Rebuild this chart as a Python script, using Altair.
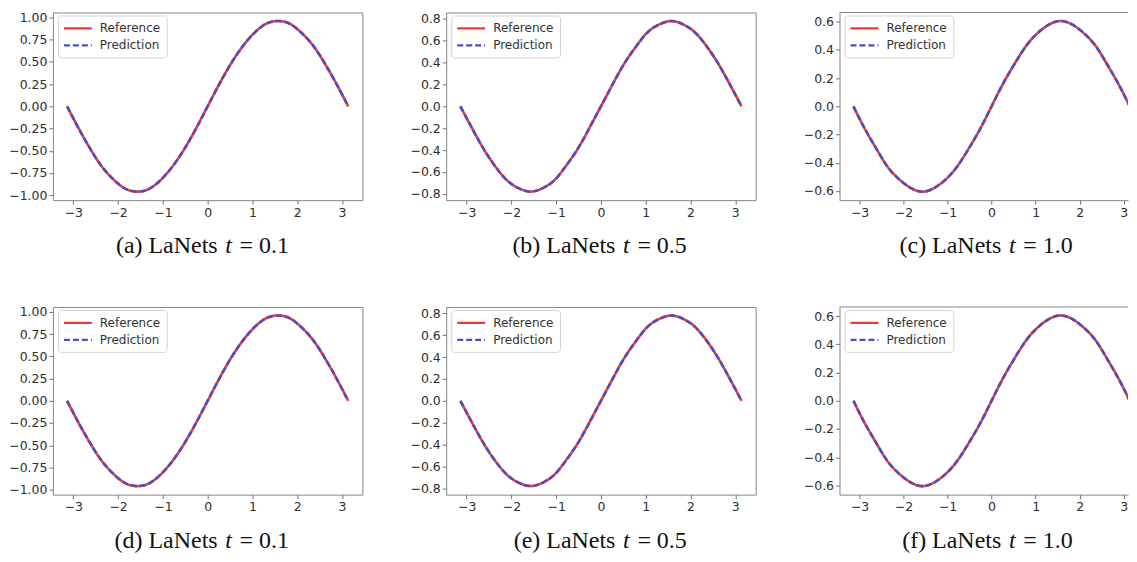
import altair as alt
import pandas as pd

# ---- data ----
X = [-3.14, -2.88, -2.62, -2.36, -2.09, -1.83, -1.57, -1.31, -1.05, -0.79, -0.52, -0.26,
     0.0, 0.26, 0.52, 0.79, 1.05, 1.31, 1.57, 1.83, 2.09, 2.36, 2.62, 2.88, 3.14]

REF_T01 = [0.00, -0.25, -0.48, -0.68, -0.83, -0.93, -0.96, -0.93, -0.83, -0.68, -0.48, -0.25,
           0.00, 0.25, 0.48, 0.68, 0.83, 0.93, 0.96, 0.93, 0.83, 0.68, 0.48, 0.25, 0.00]
PRED_T01 = [0.00, -0.25, -0.48, -0.68, -0.83, -0.93, -0.96, -0.93, -0.83, -0.68, -0.48, -0.25,
            0.00, 0.25, 0.48, 0.68, 0.83, 0.93, 0.96, 0.93, 0.83, 0.68, 0.48, 0.25, 0.00]

REF_T05 = [0.00, -0.20, -0.39, -0.55, -0.68, -0.75, -0.78, -0.75, -0.68, -0.55, -0.39, -0.20,
           0.00, 0.20, 0.39, 0.55, 0.68, 0.75, 0.78, 0.75, 0.68, 0.55, 0.39, 0.20, 0.00]
PRED_T05 = [0.00, -0.20, -0.39, -0.55, -0.68, -0.75, -0.78, -0.75, -0.68, -0.55, -0.39, -0.20,
            0.00, 0.20, 0.39, 0.55, 0.68, 0.75, 0.78, 0.75, 0.68, 0.55, 0.39, 0.20, 0.00]

REF_T10 = [0.00, -0.16, -0.30, -0.43, -0.52, -0.58, -0.605, -0.58, -0.52, -0.43, -0.30, -0.16,
           0.00, 0.16, 0.30, 0.43, 0.52, 0.58, 0.605, 0.58, 0.52, 0.43, 0.30, 0.16, 0.00]
PRED_T10 = [0.00, -0.16, -0.30, -0.43, -0.52, -0.58, -0.605, -0.58, -0.52, -0.43, -0.30, -0.16,
            0.00, 0.16, 0.30, 0.43, 0.52, 0.58, 0.605, 0.58, 0.52, 0.43, 0.30, 0.16, 0.00]

SERIES = ["Reference", "Prediction"]
COLORS = ["#ee3a33", "#4a4fc4"]
DASHES = [[1, 0], [6, 3]]

LETTERS = ["a", "b", "c", "d", "e", "f"]
T_LABELS = ["0.1", "0.5", "1.0", "0.1", "0.5", "1.0"]
REFS = [REF_T01, REF_T05, REF_T10, REF_T01, REF_T05, REF_T10]
PREDS = [PRED_T01, PRED_T05, PRED_T10, PRED_T01, PRED_T05, PRED_T10]
Y_DOMAINS = [[-1.056, 1.056], [-0.858, 0.858], [-0.665, 0.665]] * 2
Y_TICKS = [[-1.0, -0.75, -0.5, -0.25, 0.0, 0.25, 0.5, 0.75, 1.0],
           [-0.8, -0.6, -0.4, -0.2, 0.0, 0.2, 0.4, 0.6, 0.8],
           [-0.6, -0.4, -0.2, 0.0, 0.2, 0.4, 0.6]] * 2
Y_FORMATS = [".2f", ".1f", ".1f"] * 2
X_TICKS = [-3, -2, -1, 0, 1, 2, 3]

# ---- layout ----
WIDTHS = [310, 310, 289] * 2
PANEL_H = 188
CAPTION_CX = [150, 154.5, 147] * 2
CAPTION_BASE = 241
FRAME = "#858585"
X_FULL = [-3.456, 3.456]
X_CUT = [-3.456, 3.10]


def panel(i):
    n = len(X)
    df = pd.DataFrame({
        "x": X + X,
        "y": REFS[i] + PREDS[i],
        "series": ["Reference"] * n + ["Prediction"] * n,
    })
    cut = (i % 3 == 2)
    w = WIDTHS[i]
    xscale = alt.Scale(domain=X_CUT if cut else X_FULL, nice=False, zero=False)
    yscale = alt.Scale(domain=Y_DOMAINS[i], nice=False, zero=False)
    leg = alt.Legend(title=None, orient="none", legendX=5, legendY=3,
                     fillColor="white", strokeColor="#d4d4d4", cornerRadius=3,
                     padding=6, symbolType="M-1.25,0H3.75", symbolSize=125,
                     symbolStrokeWidth=2.2, labelFontSize=12, labelFont="DejaVu Sans",
                     labelColor="#333333", labelOffset=22, rowPadding=4)
    base = alt.Chart(df).encode(
        x=alt.X("x:Q", scale=xscale,
                axis=alt.Axis(values=X_TICKS, format="d", title=None, domain=cut,
                              domainColor=FRAME)),
        y=alt.Y("y:Q", scale=yscale,
                axis=alt.Axis(values=Y_TICKS[i], format=Y_FORMATS[i], title=None,
                              domain=cut, domainColor=FRAME)),
        color=alt.Color("series:N", scale=alt.Scale(domain=SERIES, range=COLORS),
                        legend=leg),
        strokeDash=alt.StrokeDash("series:N",
                                  scale=alt.Scale(domain=SERIES, range=DASHES),
                                  legend=leg),
    )
    ref_line = base.transform_filter(alt.datum.series == "Reference").mark_line(
        strokeWidth=2.6, clip=True, interpolate="natural")
    pred_line = base.transform_filter(alt.datum.series == "Prediction").mark_line(
        strokeWidth=2.6, clip=True, interpolate="natural")

    cx = CAPTION_CX[i]
    cap = pd.DataFrame({"a": [f"({LETTERS[i]}) LaNets"], "b": ["t"],
                        "c": [f"= {T_LABELS[i]}"]})
    tbase = alt.Chart(cap)
    t1 = tbase.mark_text(font="Liberation Serif", fontSize=24, align="right",
                         baseline="alphabetic", color="#111111").encode(
        text="a:N", x=alt.value(cx + 15), y=alt.value(CAPTION_BASE))
    t2 = tbase.mark_text(font="Liberation Serif", fontSize=24, fontStyle="italic",
                         align="center", baseline="alphabetic", color="#111111").encode(
        text="b:N", x=alt.value(cx + 26), y=alt.value(CAPTION_BASE))
    t3 = tbase.mark_text(font="Liberation Serif", fontSize=24, align="left",
                         baseline="alphabetic", color="#111111").encode(
        text="c:N", x=alt.value(cx + 37), y=alt.value(CAPTION_BASE))

    layers = [ref_line, pred_line, t1, t2, t3]
    if cut:
        top = alt.Chart(pd.DataFrame({"k": [0]})).mark_rule(
            color=FRAME, strokeWidth=1).encode(
            x=alt.value(0), x2=alt.value(w), y=alt.value(0))
        layers.append(top)
        ch = alt.layer(*layers).properties(
            width=w, height=PANEL_H,
            view=alt.ViewBackground(strokeOpacity=0))
    else:
        ch = alt.layer(*layers).properties(width=w, height=PANEL_H)
    return ch


panels = [panel(i) for i in range(6)]

chart = alt.concat(
    *panels, columns=3, spacing={"row": 107, "column": 84}, bounds="flush"
).resolve_scale(
    x="independent", y="independent", color="independent", strokeDash="independent"
).resolve_legend(
    color="independent", strokeDash="independent"
).properties(
    padding={"left": 0, "top": 2, "right": 0, "bottom": 0}
).configure_view(
    stroke=FRAME, strokeWidth=1
).configure_axis(
    labelFont="DejaVu Sans", labelFontSize=12.5, labelColor="#2e2e2e",
    tickColor="#707070", tickSize=4, grid=False, labelPadding=2
)

chart.save("out.html", embed_options={"renderer": "svg", "actions": False})
